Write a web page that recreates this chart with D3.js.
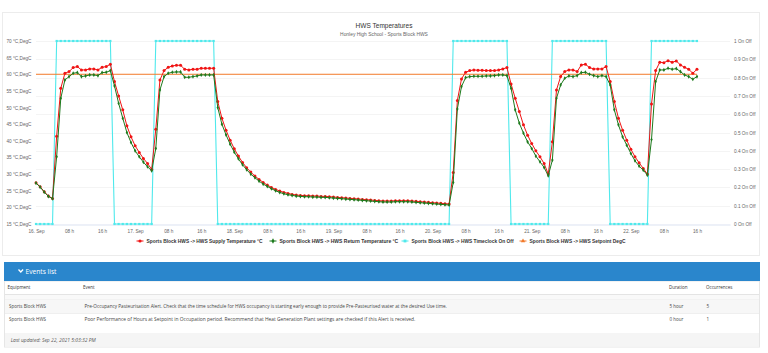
<!DOCTYPE html>
<html><head><meta charset="utf-8">
<script src="https://cdn.jsdelivr.net/npm/d3@7"></script>
<style>
html,body{margin:0;padding:0;background:#fff;}
svg{display:block;}
</style></head>
<body>
<svg id="c" width="768" height="353"></svg>
<script>
// ---------------- DATA ----------------
const startTime = "2021-09-16T00:00:00";   // first hourly sample
const endTime   = "2021-09-23T00:00:00";   // end of x axis
const supplyTemp = [
 27.4,26.2,24.7,23.4,22.7,41.4,55.8,60.3,60.8,62.0,62.3,61.3,61.3,61.6,61.6,61.3,62.1,62.3,63.0,57.8,53.5,49.3,44.5,41.2,
 38.5,36.5,34.7,33.2,31.4,43.5,58.3,61.1,62.1,62.5,62.7,62.7,61.5,61.3,61.5,61.5,61.8,61.8,61.8,61.8,51.8,46.8,43.2,40.2,
 37.6,35.4,33.5,31.9,30.6,29.4,28.4,27.5,26.7,26.0,25.4,24.9,24.5,24.2,23.9,23.7,23.6,23.5,23.5,23.4,23.4,23.3,23.3,23.2,
 23.1,23.0,22.9,22.8,22.7,22.6,22.5,22.4,22.3,22.2,22.1,22.0,21.9,21.9,21.9,22.0,22.0,22.0,22.0,21.9,21.8,21.7,21.6,21.5,
 21.4,21.3,21.2,21.1,21.0,30.5,52.1,58.6,60.6,61.1,61.3,61.2,61.2,61.1,61.1,61.1,61.3,61.6,62.0,57.1,52.8,48.8,44.8,41.7,
 39.2,37.0,35.2,33.2,30.0,39.7,55.3,59.3,60.8,61.3,61.3,60.8,62.8,63.0,62.0,61.6,61.6,61.6,62.3,57.8,51.8,46.8,43.2,40.2,
 37.5,35.2,33.4,31.7,30.0,51.1,61.1,63.6,63.5,64.1,63.6,64.0,62.8,62.1,61.5,60.3,61.5
];
const returnTemp = [
 27.3,26.1,24.6,23.3,22.6,35.2,52.8,58.3,59.3,60.3,60.5,59.3,59.5,59.8,59.8,59.6,60.5,60.6,61.1,56.5,51.3,46.8,42.5,39.5,
 37.0,35.2,33.6,32.2,31.0,37.7,55.3,59.3,60.3,60.6,60.7,60.7,59.1,59.1,59.3,59.5,59.8,59.8,59.8,59.8,50.0,45.0,41.8,39.0,
 36.6,34.6,32.8,31.3,30.0,28.9,27.9,27.0,26.3,25.6,25.0,24.5,24.1,23.8,23.6,23.4,23.3,23.2,23.2,23.1,23.1,23.0,23.0,22.9,
 22.8,22.7,22.6,22.5,22.4,22.3,22.2,22.1,22.0,21.9,21.8,21.7,21.6,21.6,21.6,21.7,21.7,21.7,21.7,21.6,21.5,21.4,21.3,21.2,
 21.1,21.0,20.9,20.8,20.7,27.5,49.6,56.3,59.0,59.3,59.4,59.4,59.4,59.5,59.5,59.6,59.8,59.8,59.6,55.8,49.3,45.3,42.3,39.7,
 37.7,35.4,33.7,32.0,29.5,34.2,52.8,56.8,58.8,59.5,59.3,59.6,60.5,60.6,60.0,59.6,59.3,59.6,59.3,56.8,49.3,44.8,41.2,38.7,
 36.2,34.0,32.4,31.2,29.7,40.4,57.8,61.3,61.3,61.8,61.5,61.7,60.8,59.8,59.3,58.5,59.3
];
const timeclock = [
 0,0,0,0,0,1,1,1,1,1,1,1,1,1,1,1,1,1,1,0,0,0,0,0,
 0,0,0,0,0,1,1,1,1,1,1,1,1,1,1,1,1,1,1,1,0,0,0,0,
 0,0,0,0,0,0,0,0,0,0,0,0,0,0,0,0,0,0,0,0,0,0,0,0,
 0,0,0,0,0,0,0,0,0,0,0,0,0,0,0,0,0,0,0,0,0,0,0,0,
 0,0,0,0,0,1,1,1,1,1,1,1,1,1,1,1,1,1,1,0,0,0,0,0,
 0,0,0,0,0,1,1,1,1,1,1,1,1,1,1,1,1,1,1,0,0,0,0,0,
 0,0,0,0,0,1,1,1,1,1,1,1,1,1,1,1,1
];
const setpointValue = 60;
const leftTicks  = [15,20,25,30,35,40,45,50,55,60,65,70];
const rightTicks = [0,0.1,0.2,0.3,0.4,0.5,0.6,0.7,0.8,0.9,1];
const seriesNames = [
 "Sports Block HWS -> HWS Supply Temperature °C",
 "Sports Block HWS -> HWS Return Temperature °C",
 "Sports Block HWS -> HWS Timeclock On Off",
 "Sports Block HWS -> HWS Setpoint DegC"
];
const chartTitle = "HWS Temperatures";
const chartSubtitle = "Honley High School - Sports Block HWS";
const tableHeaders = ["Equipment","Event","Duration","Occurrences"];
const tableRows = [
 ["Sports Block HWS","Pre-Occupancy Pasteurisation Alert. Check that the time schedule for HWS occupancy is starting early enough to provide Pre-Pasteurised water at the desired Use time.","5 hour","5"],
 ["Sports Block HWS","Poor Performance of Hours at Setpoint in Occupation period. Recommend that Heat Generation Plant settings are checked if this Alert is received.","0 hour","1"]
];
const lastUpdated = "Last updated: Sep 22, 2021 5:03:32 PM";

// ---------------- STYLE ----------------
const colRed = "#f01414", colGreen = "#1d7a1d", colCyan = "#4fe9ec", colOrange = "#f27a2a";
const chartFont = "'Liberation Sans', Arial, sans-serif";
const tableFont = "'Open Sans', sans-serif";

// scale a text's font size so that its rendered width matches a target width
function fitWidth(sel, target) {
  const n = sel.node();
  const fs = parseFloat(sel.attr("font-size"));
  const w = n.getComputedTextLength();
  if (w > 0) sel.attr("font-size", (fs * target / w).toFixed(3));
  return sel;
}

const svg = d3.select("#c");
const t0 = new Date(startTime);
const times = supplyTemp.map((_, i) => new Date(t0.getTime() + i * 3600000));

const plot = {l: 36, r: 730, t: 41, b: 224};
const x = d3.scaleTime().domain([t0, new Date(endTime)]).range([plot.l, plot.r]);
const yL = d3.scaleLinear().domain([15, 70]).range([plot.b, plot.t]);
const yR = d3.scaleLinear().domain([0, 1]).range([plot.b, plot.t]);

// chart panel
svg.append("rect").attr("x", 2.5).attr("y", 12.5).attr("width", 757).attr("height", 243)
  .attr("fill", "#fff").attr("stroke", "#ececec");

// title
fitWidth(svg.append("text").attr("x", 384).attr("y", 28).attr("text-anchor", "middle")
  .attr("font-family", chartFont).attr("font-size", 7).attr("fill", "#333").text(chartTitle), 57);
fitWidth(svg.append("text").attr("x", 384).attr("y", 36).attr("text-anchor", "middle")
  .attr("font-family", chartFont).attr("font-size", 4.6).attr("fill", "#666").text(chartSubtitle), 88);

// grid lines (right axis)
svg.append("g").selectAll("line").data(rightTicks.slice(1)).join("line")
  .attr("x1", plot.l).attr("x2", plot.r)
  .attr("y1", d => Math.round(yR(d)) + 0.5).attr("y2", d => Math.round(yR(d)) + 0.5)
  .attr("stroke", "#ededed").attr("stroke-width", 0.6);

// x axis
const xTicks = d3.timeHour.every(8).range(t0, new Date(endTime));
const xAxis = d3.axisBottom(x).tickValues(xTicks).tickSize(0).tickPadding(5)
  .tickFormat(d => d.getHours() === 0 ? d3.timeFormat("%d. %b")(d) : d3.timeFormat("%H h")(d));
const gx = svg.append("g").attr("transform", `translate(0,${plot.b + 0.5})`).call(xAxis);
gx.select(".domain").attr("stroke", "#ccd6eb").attr("stroke-width", 0.7);
gx.selectAll("text").attr("font-family", chartFont).attr("font-size", 4.7).attr("fill", "#666");

// left axis
const gyl = svg.append("g").attr("transform", `translate(${plot.l - 4.5},0)`)
  .call(d3.axisLeft(yL).tickValues(leftTicks).tickSize(0).tickPadding(0).tickFormat(d => d + " °C,DegC"));
gyl.select(".domain").remove();
gyl.selectAll("text").attr("font-family", chartFont).attr("font-size", 4.7).attr("fill", "#666");

// right axis
const gyr = svg.append("g").attr("transform", `translate(${plot.r + 4},0)`)
  .call(d3.axisRight(yR).tickValues(rightTicks).tickSize(0).tickPadding(0).tickFormat(d => d3.format("~g")(d) + " On Off"));
gyr.select(".domain").remove();
gyr.selectAll("text").attr("font-family", chartFont).attr("font-size", 4.7).attr("fill", "#666");

// series
const lineL = vals => d3.line().x((d, i) => x(times[i])).y(d => yL(d))(vals);
// timeclock
svg.append("path").attr("d", d3.line().x((d, i) => x(times[i])).y(d => yR(d))(timeclock))
  .attr("fill", "none").attr("stroke", colCyan).attr("stroke-width", 1.1);
svg.append("g").selectAll("rect").data(timeclock).join("rect")
  .attr("x", (d, i) => x(times[i]) - 1.1).attr("y", d => yR(d) - 1.1)
  .attr("width", 2.2).attr("height", 2.2).attr("fill", colCyan);
// setpoint
svg.append("line").attr("x1", x(times[0])).attr("x2", x(times[times.length - 1]))
  .attr("y1", yL(setpointValue)).attr("y2", yL(setpointValue))
  .attr("stroke", colOrange).attr("stroke-width", 1);
// supply
svg.append("path").attr("d", lineL(supplyTemp)).attr("fill", "none").attr("stroke", colRed).attr("stroke-width", 1);
svg.append("g").selectAll("circle").data(supplyTemp).join("circle")
  .attr("cx", (d, i) => x(times[i])).attr("cy", d => yL(d)).attr("r", 1.5).attr("fill", colRed);
// return
svg.append("path").attr("d", lineL(returnTemp)).attr("fill", "none").attr("stroke", colGreen).attr("stroke-width", 1);
const diamond = d3.symbol().type(d3.symbolDiamond).size(5);
svg.append("g").selectAll("path").data(returnTemp).join("path")
  .attr("transform", (d, i) => `translate(${x(times[i])},${yL(d)})`).attr("d", diamond).attr("fill", colGreen);

// legend
const legendMarkX = [140, 273, 405, 523];
const legendTextW = [116, 119, 102, 96];
const legendCols = [colRed, colGreen, colCyan, colOrange];
const legendSym = [d3.symbolCircle, d3.symbolDiamond, d3.symbolSquare, d3.symbolTriangle];
const lg = svg.append("g").attr("transform", "translate(0,241)");
seriesNames.forEach((n, i) => {
  const g = lg.append("g").attr("transform", `translate(${legendMarkX[i]},0)`);
  g.append("line").attr("x1", -3.5).attr("x2", 3.5).attr("y1", 0).attr("y2", 0).attr("stroke", legendCols[i]).attr("stroke-width", 1);
  g.append("path").attr("d", d3.symbol().type(legendSym[i]).size(8)()).attr("fill", legendCols[i]);
  fitWidth(g.append("text").attr("x", 6.5).attr("y", 1.7).attr("font-family", chartFont).attr("font-weight", "bold")
    .attr("font-size", 4.8).attr("fill", "#333").text(n), legendTextW[i]);
});

// ---------------- EVENTS PANEL ----------------
svg.append("rect").attr("x", 4.5).attr("y", 281).attr("width", 755).attr("height", 66)
  .attr("fill", "#fff").attr("stroke", "#e6e6e6");
svg.append("rect").attr("x", 4).attr("y", 262).attr("width", 756).attr("height", 19).attr("fill", "#2a86cc");
svg.append("path").attr("d", "M18.5,269.5 L20.8,272 L23.1,269.5").attr("fill", "none")
  .attr("stroke", "#fff").attr("stroke-width", 1.3);
fitWidth(svg.append("text").attr("x", 25.5).attr("y", 274).attr("font-family", tableFont).attr("font-size", 6.3)
  .attr("fill", "#fff").text("Events list"), 31);

const colX = [7.5, 83, 669, 706];
const th = svg.append("g");
tableHeaders.forEach((h, i) => th.append("text").attr("x", colX[i]).attr("y", 289.3)
  .attr("font-family", tableFont).attr("font-size", 4.5).attr("fill", "#333").text(h));
svg.append("rect").attr("x", 5).attr("y", 294).attr("width", 754).attr("height", 6).attr("fill", "#f9f9f9");
svg.append("line").attr("x1", 5).attr("x2", 759).attr("y1", 294.5).attr("y2", 294.5).attr("stroke", "#dedede").attr("stroke-width", 0.8);
svg.append("line").attr("x1", 5).attr("x2", 759).attr("y1", 300).attr("y2", 300).attr("stroke", "#e3e3e3").attr("stroke-width", 0.6);
svg.append("rect").attr("x", 5).attr("y", 300.3).attr("width", 754).attr("height", 13).attr("fill", "#f7f7f7");
svg.append("line").attr("x1", 5).attr("x2", 759).attr("y1", 313.5).attr("y2", 313.5).attr("stroke", "#e6e6e6").attr("stroke-width", 0.6);
const rowY = [308.3, 321];
const rowTextW = [363, 332];
tableRows.forEach((r, ri) => r.forEach((c, ci) => {
  const t = svg.append("text").attr("x", colX[ci] + (ci < 2 ? 1.5 : 0.5))
    .attr("y", rowY[ri]).attr("font-family", tableFont).attr("font-size", 4.5).attr("fill", "#444").text(c);
  if (ci === 1) fitWidth(t, rowTextW[ri]);
}));
svg.append("rect").attr("x", 5).attr("y", 333).attr("width", 754).attr("height", 13.5).attr("fill", "#f5f5f5");
fitWidth(svg.append("text").attr("x", 10.7).attr("y", 341.5).attr("font-family", tableFont).attr("font-style", "italic")
  .attr("font-size", 4.6).attr("fill", "#555").text(lastUpdated), 85);
</script>
</body></html>
